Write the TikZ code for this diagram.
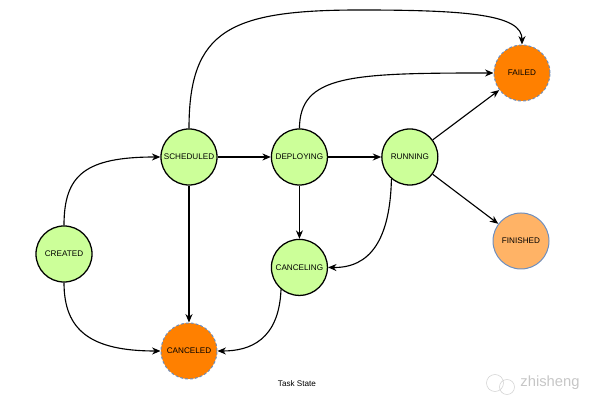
\documentclass[tikz,border=0pt]{standalone}
\usepackage{fontspec}
\setmainfont{Liberation Sans}
\usetikzlibrary{positioning,arrows.meta}
\definecolor{stategreen}{HTML}{CCFF99}
\definecolor{stateorange}{HTML}{FF8000}
\definecolor{lightorange}{HTML}{FFB366}
\definecolor{dashblue}{HTML}{6C8EBF}
\begin{document}
\begin{tikzpicture}[x=0.025cm, y=0.025cm, node distance = 2.76cm, font=\fontsize{5.8}{7}\selectfont]
        \tikzstyle{state} = [circle, draw, line width=0.9pt, fill=stategreen, minimum size=1.4cm, inner sep=0pt]
        \tikzstyle{bad} = [circle, draw=dashblue, dash pattern=on 2pt off 1.5pt, line width=0.7pt, fill=stateorange, minimum size=1.4cm, inner sep=0pt]
        \tikzstyle{good} = [circle, draw=dashblue, line width=0.7pt, fill=lightorange, minimum size=1.4cm, inner sep=0pt]
        \tikzstyle{line} = [draw, line width=0.8pt, -{Stealth[length=6pt,width=5pt]}]
        \useasboundingbox (0,0) rectangle (600,400);
        \node [state] (created) at (64,146) {CREATED};
        \node [state] (sched) at (189,243) {SCHEDULED};
        \node [state, right of=sched] (deploy) {DEPLOYING};
        \node [state, right of=deploy] (run) {RUNNING};
        \node [state, below of=deploy] (canceling) {CANCELING};
        \node [bad] (canceled) at (189,49) {CANCELED};
        \node [bad] (failed) at (522,327) {FAILED};
        \node [good] (finished) at (521,159) {FINISHED};
        \path [line] (created.north) .. controls (64,225) and (85,243) .. (sched.west);
        \path [line] (created.south) .. controls (64,70) and (90,49) .. (canceled.west);
        \path [line] (sched) -- (deploy);
        \path [line] (sched) -- (canceled);
        \path [line] (sched.north) .. controls (189,370) and (230,390) .. (360,390)
            .. controls (470,390) and (522,385) .. (failed.north);
        \path [line] (deploy) -- (run);
        \path [line] (deploy) -- (canceling);
        \path [line] (deploy.north) .. controls (300,325) and (350,327) .. (failed.west);
        \path [line] (run) -- (failed);
        \path [line] (run) -- (finished);
        \path [line] (run.230) .. controls (390,160) and (370,132) .. (canceling.east);
        \path [line] (canceling.230) .. controls (279,60) and (250,49) .. (canceled.east);
        \node (title) at (297,16) {Task State};
        % watermark
        \draw [gray!35, fill=white] (495,17) circle (8.5) (507,13) circle (7.5);
        \node [gray!45, font=\fontsize{10.5}{12}\selectfont] (mark) at (550,17) {zhisheng};
\end{tikzpicture}
\end{document}
